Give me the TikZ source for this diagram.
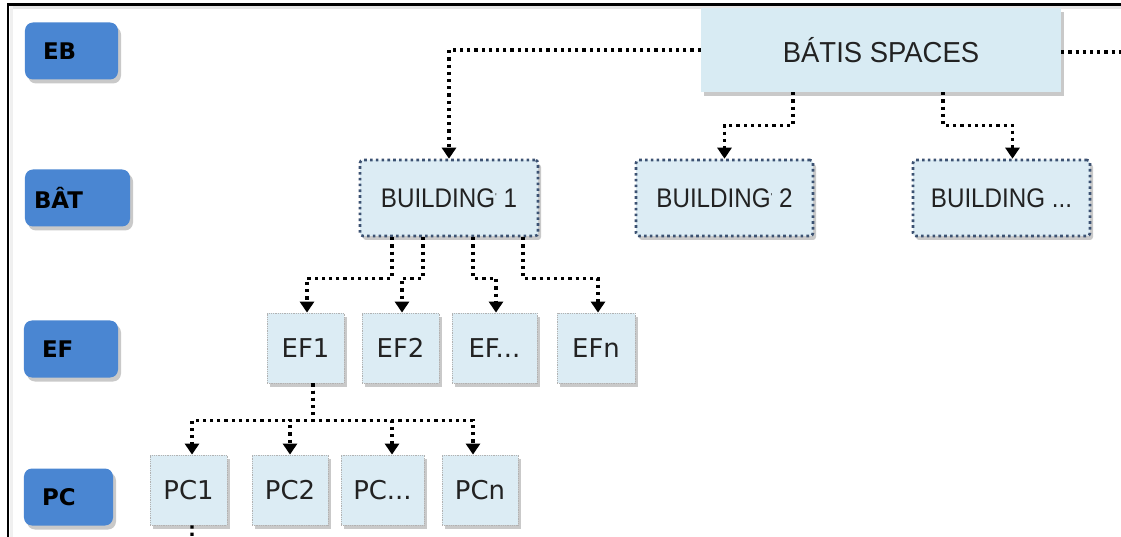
\documentclass[tikz,border=0pt]{standalone}
\usepackage{fontspec}
\usepackage{graphicx}
\setmainfont{DejaVu Sans}
\newfontfamily\arialf{Liberation Sans}
\usetikzlibrary{arrows.meta,shadows}
\definecolor{labblue}{HTML}{4A86D2}
\definecolor{lightbox}{HTML}{DCECF4}
\definecolor{topbox}{HTML}{D8EBF3}
\definecolor{dotblue}{HTML}{3C5272}
\definecolor{txtdark}{HTML}{222222}
\newcommand\narrowtxt[1]{\scalebox{0.9}[1]{#1}}
\tikzset{
  shad/.style={drop shadow={shadow xshift=3bp,shadow yshift=-4bp,opacity=0.35,fill=black!60}},
  levelbox/.style={shad,fill=labblue,rounded corners=8bp,inner sep=0pt,
     minimum height=57bp,text=black,font=\bfseries\fontsize{23}{26}\selectfont,
     align=left},
  bigbox/.style={shad,fill=topbox,inner sep=0pt,minimum width=360bp,minimum height=84bp,
     text=txtdark,font=\arialf\fontsize{29}{33}\selectfont},
  bldbox/.style={shad,fill=lightbox,draw=dotblue,line width=2.6bp,dash pattern=on 2.6bp off 3.2bp,
     rounded corners=3bp,inner sep=0pt,minimum width=177bp,minimum height=76bp,
     text=txtdark,font=\arialf\fontsize{27}{31}\selectfont},
  smallbox/.style={shad,fill=lightbox,draw=gray!60,line width=0.8bp,densely dotted,
     inner sep=0pt,minimum width=77bp,minimum height=70bp,
     text=txtdark,font=\fontsize{26}{30}\selectfont},
  conn/.style={draw=black,line width=3.2bp,dash pattern=on 3.2bp off 4bp,
     -{Triangle[width=14bp,length=11bp]}},
  connplain/.style={draw=black,line width=3.2bp,dash pattern=on 3.2bp off 4bp},
}
\begin{document}
\begin{tikzpicture}[x=1bp,y=-1bp]
\useasboundingbox (0,0) rectangle (1121,537);
\fill[white] (0,0) rectangle (1121,537);
% frame
\draw[line width=2.6bp,black] (8,537) -- (8,4.5) -- (1121,4.5);
\fill[black!10] (9.5,6) rectangle (1121,9);
\fill[black!6] (9.5,6) rectangle (13,537);

% level labels
\node[levelbox,minimum width=93bp,text width=57bp] (eb) at (71.5,51) {EB};
\node[levelbox,minimum width=105bp,text width=87bp] (bat) at (77.5,198) {BÂT};
\node[levelbox,minimum width=94bp,text width=58bp] (ef) at (71,349) {EF};
\node[levelbox,minimum width=89bp,text width=53bp] (pc) at (68.5,497) {PC};

% top box
\node[bigbox] (bs) at (881,50) {\scalebox{0.95}[1]{BÁTIS SPACES}};
\coordinate (rightend) at (1121,52);

% buildings
\node[bldbox,minimum width=178bp] (b1) at (449,198) {\narrowtxt{BUILDING\raisebox{0.5ex}{\fontsize{10}{10}\selectfont'} 1}};
\node[bldbox] (b2) at (724.5,198) {\narrowtxt{BUILDING\raisebox{0.5ex}{\fontsize{10}{10}\selectfont'} 2}};
\node[bldbox] (b3) at (1001.5,198) {\narrowtxt{BUILDING ...}};

% EF
\node[smallbox] (ef1) at (305.5,348) {EF1};
\node[smallbox] (ef2) at (400.5,348) {EF2};
\node[smallbox,minimum width=85bp] (efd) at (494.5,348) {EF...};
\node[smallbox,minimum width=78bp] (efn) at (596,348) {EFn};

% PC
\node[smallbox] (pc1) at (188.5,490) {PC1};
\node[smallbox,minimum width=76bp] (pc2) at (290,490) {PC2};
\node[smallbox,minimum width=83bp] (pcd) at (382.5,490) {PC...};
\node[smallbox,minimum width=76bp] (pcn) at (480,490) {PCn};
\coordinate (pctail) at (192,537);

% connectors top level
\draw[conn] (bs.west) -| (b1.north);
\draw[connplain] (bs.east |- rightend) -- (rightend);
\draw[conn] ([xshift=-88bp]bs.south) -- ++(0,33) -| (b2.north);
\draw[conn] ([xshift=62bp]bs.south) -- ++(0,33) -| ([xshift=11bp]b3.north);

% building 1 -> EF
\draw[conn] ([xshift=-57bp]b1.south) -- ++(0,41) -| ([xshift=1.5bp]ef1.north);
\draw[conn] ([xshift=-26bp]b1.south) -- ++(0,41) -| ([xshift=1.5bp]ef2.north);
\draw[conn] ([xshift=24bp]b1.south) -- ++(0,41) -| ([xshift=1.5bp]efd.north);
\draw[conn] ([xshift=74bp]b1.south) -- ++(0,41) -| ([xshift=2bp]efn.north);

% EF1 -> PC
\draw[conn] ([xshift=7.5bp]ef1.south) -- ++(0,37) -| ([xshift=3.5bp]pc1.north);
\draw[conn] ([xshift=7.5bp]ef1.south) -- ++(0,37) -| (pc2.north);
\draw[conn] ([xshift=7.5bp]ef1.south) -- ++(0,37) -| ([xshift=9.5bp]pcd.north);
\draw[conn] ([xshift=7.5bp]ef1.south) -- ++(0,37) -| ([xshift=-7bp]pcn.north);

\draw[connplain] ([xshift=3.5bp]pc1.south) -- (pctail);
\end{tikzpicture}
\end{document}
